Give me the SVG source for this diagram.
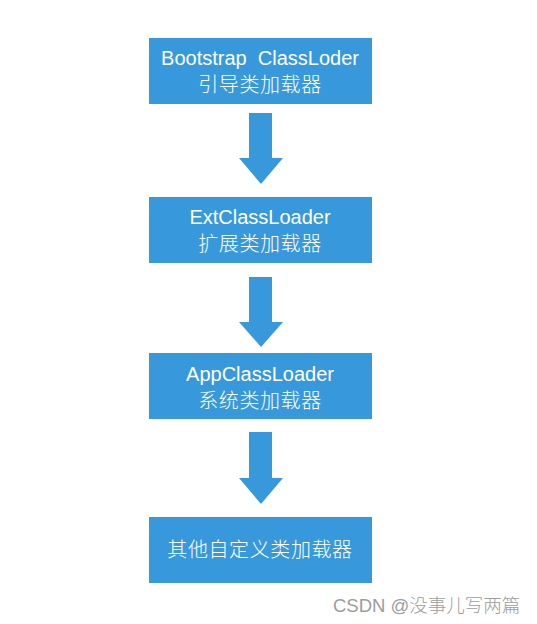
<svg xmlns="http://www.w3.org/2000/svg" width="537" height="624" viewBox="0 0 537 624">
<style>
.box{fill:#3799db}
.t{fill:#ffffff;font-family:"Liberation Sans","Noto Sans CJK SC",sans-serif;font-size:20px;text-anchor:middle;white-space:pre}
.c{font-weight:300;letter-spacing:0.6px}
.arr{fill:#3799db}
.wm{fill:#9d9d9d;font-family:"Liberation Sans","Noto Sans CJK SC",sans-serif;font-size:18.5px;font-weight:300}
</style>
<rect width="537" height="624" fill="#ffffff"/>
<g id="connectors">
<polygon class="arr" points="249,113 272,113 272,158 283,158 261,184 239,158 249,158"/>
<polygon class="arr" points="249,277 272,277 272,322 283,322 261,347 239,322 249,322"/>
<polygon class="arr" points="249,432 272,432 272,478 283,478 261,504 239,478 249,478"/>
</g>
<g id="bootstrap">
<rect class="box" x="149" y="38" width="223" height="66"/>
<text class="t" x="260" y="65" xml:space="preserve">Bootstrap  ClassLoder</text>
<text class="t c" x="260" y="92">引导类加载器</text>
</g>
<g id="ext">
<rect class="box" x="149" y="197" width="223" height="66"/>
<text class="t" x="260" y="224">ExtClassLoader</text>
<text class="t c" x="260" y="251">扩展类加载器</text>
</g>
<g id="app">
<rect class="box" x="149" y="353" width="223" height="66"/>
<text class="t" x="260" y="381">AppClassLoader</text>
<text class="t c" x="260" y="408">系统类加载器</text>
</g>
<g id="custom">
<rect class="box" x="149" y="517" width="223" height="66"/>
<text class="t c" x="260" y="557">其他自定义类加载器</text>
</g>
<text class="wm" x="333" y="612">CSDN @没事儿写两篇</text>
</svg>
